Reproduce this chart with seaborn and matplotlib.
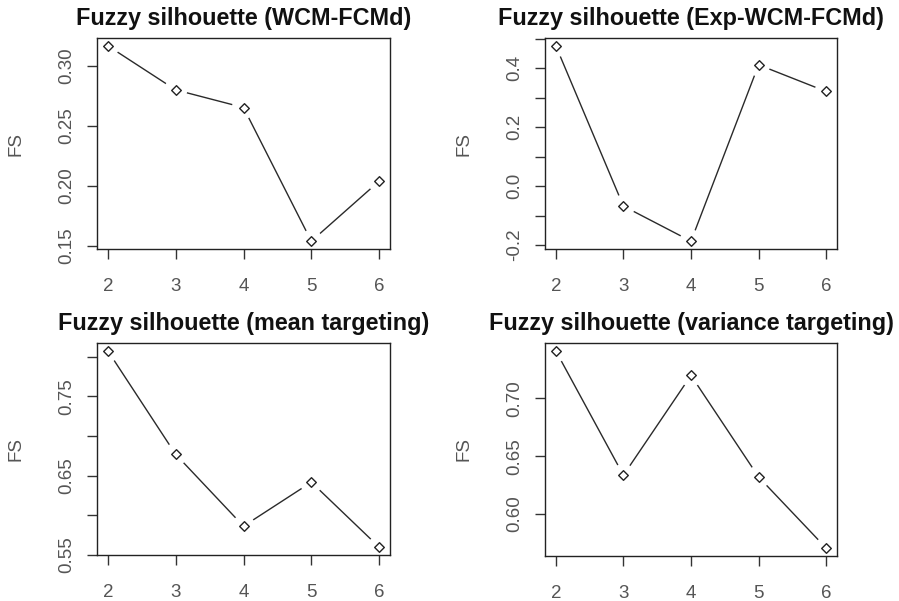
import numpy as np
import pandas as pd
import seaborn as sns
import matplotlib
matplotlib.use("Agg")
import matplotlib.pyplot as plt
from matplotlib.ticker import FixedLocator, FixedFormatter

sns.set_theme(style="white")
plt.rcParams['font.family'] = ['Liberation Sans', 'DejaVu Sans']

clusters = [2, 3, 4, 5, 6]
fs_wcm = [0.3167, 0.2800, 0.2653, 0.1540, 0.2040]
fs_exp = [0.476, -0.068, -0.187, 0.4115, 0.321]
fs_mean = [0.8076, 0.6768, 0.5860, 0.6416, 0.5595]
fs_var = [0.7410, 0.6335, 0.7198, 0.6320, 0.5705]

titles = ["Fuzzy silhouette (WCM-FCMd)", "Fuzzy silhouette (Exp-WCM-FCMd)",
          "Fuzzy silhouette (mean targeting)", "Fuzzy silhouette (variance targeting)"]
series = [fs_wcm, fs_exp, fs_mean, fs_var]

ytick_vals = [
    [0.15, 0.20, 0.25, 0.30],
    [-0.2, -0.1, 0.0, 0.1, 0.2, 0.3, 0.4, 0.5],
    [0.55, 0.60, 0.65, 0.70, 0.75, 0.80],
    [0.60, 0.65, 0.70],
]
ytick_labels = [
    ["0.15", "0.20", "0.25", "0.30"],
    ["-0.2", "", "0.0", "", "0.2", "", "0.4", ""],
    ["0.55", "", "0.65", "", "0.75", ""],
    ["0.60", "0.65", "0.70"],
]

W, H = 899, 601
# axes boxes in pixels: left, right, top, bottom
boxes = [(97, 390, 38, 249), (545, 837, 38, 249),
         (97, 390, 343, 555), (545, 837, 343, 556)]

fig = plt.figure(figsize=(W / 100, H / 100), dpi=100)
fig.patch.set_facecolor("white")

tick_color = "#555555"
for i in range(4):
    l, r, t, b = boxes[i]
    ax = fig.add_axes([l / W, 1 - b / H, (r - l) / W, (b - t) / H])
    ax.set_facecolor("white")
    df = pd.DataFrame({"k": clusters, "FS": series[i]})
    sns.lineplot(data=df, x="k", y="FS", ax=ax, color="#2a2a2a", linewidth=1.0, zorder=1)
    ax.scatter(df["k"], df["FS"], s=280, color="white", edgecolor="none", zorder=2.1)
    ax.scatter(df["k"], df["FS"], s=24, facecolor="white", edgecolor="#222222",
               linewidth=1.0, marker="D", zorder=3)
    xr = max(clusters) - min(clusters)
    ax.set_xlim(min(clusters) - 0.04 * xr, max(clusters) + 0.04 * xr)
    yr = max(series[i]) - min(series[i])
    ax.set_ylim(min(series[i]) - 0.04 * yr, max(series[i]) + 0.04 * yr)
    ax.xaxis.set_major_locator(FixedLocator(clusters))
    ax.xaxis.set_major_formatter(FixedFormatter([str(c) for c in clusters]))
    ax.yaxis.set_major_locator(FixedLocator(ytick_vals[i]))
    ax.yaxis.set_major_formatter(FixedFormatter(ytick_labels[i]))
    for s in ax.spines.values():
        s.set_visible(True)
        s.set_color("#222222")
        s.set_linewidth(1.0)
    ax.tick_params(axis="both", direction="out", length=7, width=1.0,
                   color="#333333", labelcolor=tick_color, labelsize=13.5,
                   bottom=True, left=True, pad=9)
    ax.tick_params(axis="x", pad=14)
    ax.tick_params(axis="y", labelrotation=90)
    for lab in ax.get_yticklabels():
        lab.set_va("center")
    ax.set_xlabel("")
    ax.set_ylabel("FS", fontsize=13.5, color=tick_color)
    ax.yaxis.set_label_coords(-0.276, 0.5)
    ax.yaxis.label.set_va("center")
    ax.set_title(titles[i], fontsize=16.8, fontweight="bold", color="#111111", pad=9)

fig.savefig("out.png", dpi=100, facecolor="white")
